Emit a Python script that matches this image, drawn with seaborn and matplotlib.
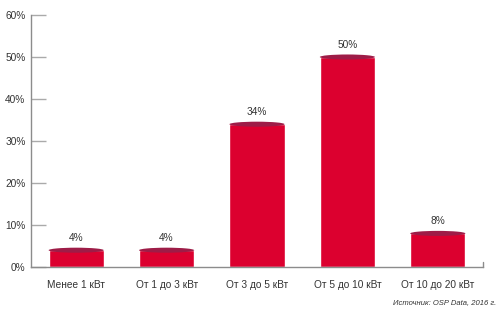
import matplotlib
matplotlib.use("Agg")
import matplotlib.pyplot as plt
from matplotlib.patches import Ellipse
from matplotlib import font_manager
import seaborn as sns
import pandas as pd

categories = ["Менее 1 кВт", "От 1 до 3 кВт", "От 3 до 5 кВт", "От 5 до 10 кВт", "От 10 до 20 кВт"]
values = [4, 4, 34, 50, 8]
yticks = [0, 10, 20, 30, 40, 50, 60]
source_text = "Источник: OSP Data, 2016 г."

sns.set_theme(style="white")
names = {f.name for f in font_manager.fontManager.ttflist}
fam = "Liberation Sans Narrow" if "Liberation Sans Narrow" in names else "Liberation Sans"
plt.rcParams["font.family"] = [fam, "DejaVu Sans"]

BAR = "#dc002f"
TOP = "#9e1c47"
GRAY = "#8c8c8c"
TXT = "#333333"

fig = plt.figure(figsize=(5.0, 3.1), dpi=100)
ax = fig.add_axes([0.062, 0.1387, 0.904, 0.8129])

df = pd.DataFrame({"cat": categories, "val": values})
sns.barplot(data=df, x="cat", y="val", color=BAR, saturation=1, width=0.61, ax=ax, zorder=2)

for p, v in zip(ax.patches, values):
    x0, w = p.get_x(), p.get_width()
    e = Ellipse((x0 + w / 2, v), w, 1.2, facecolor=TOP, edgecolor="none", zorder=3)
    ax.add_patch(e)
    ax.text(x0 + w / 2, v + 1.7, f"{v}%", ha="center", va="bottom", fontsize=7.3, color=TXT)

ax.set_xlim(-0.5, 4.5)
ax.set_ylim(0, 60)
ax.set_yticks(yticks)
ax.set_yticklabels([f"{t}%" for t in yticks], fontsize=7.3, color=TXT)
ax.set_xlabel("")
ax.set_ylabel("")
ax.tick_params(axis="y", direction="in", length=11, width=1, color="#aaaaaa", pad=4, left=True)
ax.tick_params(axis="x", bottom=False, labelsize=7.3, labelcolor=TXT, pad=7)
for s in ["top", "right"]:
    ax.spines[s].set_visible(False)
for s in ["left", "bottom"]:
    ax.spines[s].set_color(GRAY)
    ax.spines[s].set_linewidth(1)
ax.plot([1, 1], [0, 0.02], transform=ax.transAxes, color=GRAY, lw=1, clip_on=False)
for lab in ax.get_xticklabels():
    lab.set_va("center")

fig.text(0.992, 0.025, source_text, ha="right", va="center", fontsize=5.5, style="italic", color=TXT)

fig.savefig("out.png", dpi=100, facecolor="white")
